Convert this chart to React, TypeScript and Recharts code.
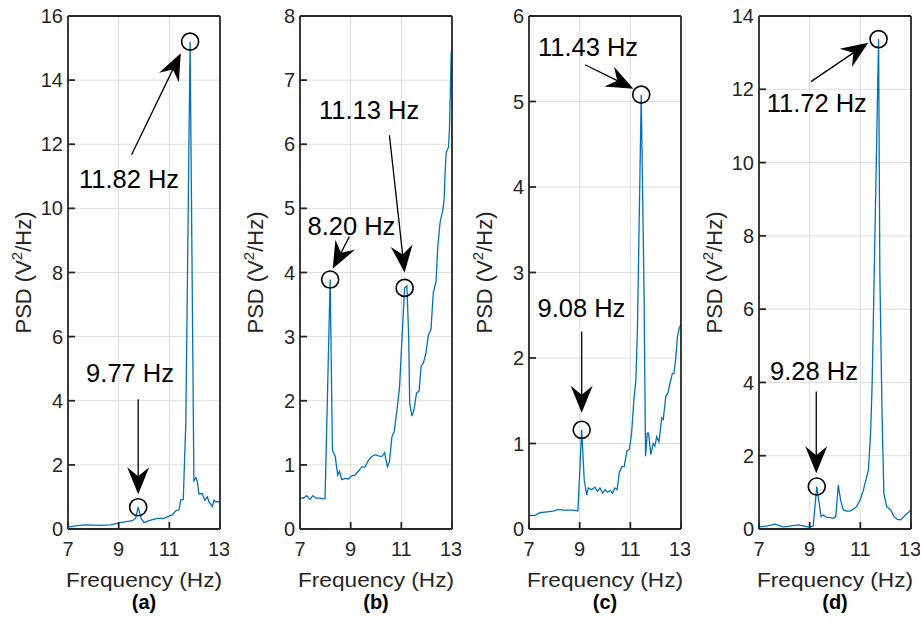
import React from 'react'
import { LineChart, Line, XAxis, YAxis, CartesianGrid, ReferenceDot, ReferenceLine } from 'recharts'

const FONT = 'Liberation Sans, Arial, sans-serif'
const AXIS = '#262626'

const xTicks = [7, 9, 11, 13]

// (a)
const freqA = [7.0, 7.3, 7.63, 8.0, 8.29, 8.68, 9.08, 9.3, 9.54, 9.67, 9.77, 9.89, 10.0, 10.2, 10.53, 10.79, 10.99, 11.12, 11.25, 11.38, 11.45, 11.55, 11.65, 11.82, 11.97, 12.05, 12.1, 12.17, 12.3, 12.4, 12.5, 12.56, 12.7, 12.76, 12.83, 13.0]
const psdA = [0.06, 0.1, 0.13, 0.12, 0.11, 0.13, 0.2, 0.23, 0.26, 0.33, 0.68, 0.33, 0.2, 0.26, 0.33, 0.33, 0.4, 0.44, 0.57, 0.6, 0.9, 0.92, 3.3, 15.2, 1.5, 1.6, 1.5, 1.1, 1.1, 0.9, 1.0, 0.85, 0.7, 0.9, 0.85, 0.85]
const yTicksA = [0, 2, 4, 6, 8, 10, 12, 14, 16]

// (b)
const freqB = [7.0, 7.13, 7.26, 7.4, 7.5, 7.63, 7.79, 7.92, 7.99, 8.19, 8.28, 8.39, 8.49, 8.56, 8.65, 8.78, 8.91, 9.04, 9.17, 9.3, 9.44, 9.57, 9.7, 9.83, 9.97, 10.1, 10.23, 10.34, 10.45, 10.53, 10.63, 10.72, 10.83, 10.93, 11.03, 11.13, 11.22, 11.29, 11.33, 11.42, 11.5, 11.6, 11.7, 11.78, 11.87, 11.97, 12.07, 12.17, 12.26, 12.37, 12.44, 12.53, 12.64, 12.69, 12.73, 12.77, 12.86, 12.9, 12.93, 12.97, 13.0]
const psdB = [0.49, 0.48, 0.52, 0.46, 0.52, 0.48, 0.48, 0.47, 0.48, 3.89, 1.23, 1.13, 0.84, 0.9, 0.77, 0.79, 0.78, 0.83, 0.84, 0.9, 0.97, 0.97, 1.07, 1.13, 1.16, 1.14, 1.13, 1.19, 0.97, 1.05, 1.44, 1.52, 1.86, 2.22, 3.0, 3.76, 3.79, 3.0, 1.96, 1.76, 1.86, 2.12, 2.15, 2.54, 2.59, 2.74, 3.03, 3.11, 3.68, 3.86, 4.41, 4.78, 4.98, 5.14, 5.56, 5.87, 5.95, 6.23, 6.76, 7.43, 7.5]
const yTicksB = [0, 1, 2, 3, 4, 5, 6, 7, 8]

// (c)
const freqC = [7.0, 7.24, 7.43, 7.7, 7.96, 8.16, 8.36, 8.55, 8.75, 8.93, 9.08, 9.18, 9.28, 9.34, 9.47, 9.6, 9.7, 9.8, 9.91, 10.0, 10.1, 10.2, 10.3, 10.39, 10.48, 10.56, 10.66, 10.76, 10.86, 10.96, 11.05, 11.14, 11.22, 11.28, 11.43, 11.54, 11.6, 11.67, 11.72, 11.81, 11.9, 11.97, 12.04, 12.13, 12.24, 12.3, 12.4, 12.48, 12.57, 12.66, 12.72, 12.79, 12.86, 12.93, 13.0]
const psdC = [0.16, 0.16, 0.19, 0.2, 0.21, 0.23, 0.22, 0.22, 0.22, 0.21, 1.16, 0.57, 0.4, 0.48, 0.46, 0.49, 0.44, 0.48, 0.42, 0.46, 0.43, 0.45, 0.42, 0.48, 0.46, 0.65, 0.73, 0.73, 0.91, 0.93, 1.12, 1.51, 1.75, 2.33, 5.08, 2.8, 0.85, 1.12, 1.12, 0.87, 1.0, 0.97, 1.08, 1.02, 1.3, 1.28, 1.55, 1.59, 1.71, 1.82, 1.82, 1.98, 2.25, 2.35, 2.39]
const yTicksC = [0, 1, 2, 3, 4, 5, 6]

// (d)
const freqD = [7.0, 7.3, 7.63, 7.96, 8.22, 8.55, 8.8, 8.98, 9.14, 9.28, 9.45, 9.54, 9.67, 9.8, 9.93, 10.03, 10.13, 10.22, 10.33, 10.46, 10.59, 10.72, 10.85, 10.99, 11.12, 11.22, 11.32, 11.41, 11.47, 11.72, 11.77, 11.86, 11.93, 12.04, 12.2, 12.33, 12.46, 12.59, 12.72, 12.86, 13.0]
const psdD = [0.06, 0.08, 0.13, 0.06, 0.08, 0.11, 0.08, 0.05, 0.08, 1.16, 0.34, 0.38, 0.32, 0.31, 0.29, 0.34, 1.2, 0.79, 0.52, 0.49, 0.49, 0.54, 0.61, 0.79, 1.06, 1.34, 1.61, 2.7, 4.07, 13.37, 7.0, 3.0, 0.97, 0.61, 0.52, 0.34, 0.26, 0.25, 0.34, 0.43, 0.52]
const yTicksD = [0, 2, 4, 6, 8, 10, 12, 14]

type Note = {
  peak: number
  text: string
  label: [number, number]
  tail: [number, number]
  tip: [number, number]
}

const notesA: Note[] = [
  { peak: 11.82, text: '11.82 Hz', label: [9.41, 10.92], tail: [9.51, 11.67], tip: [11.45, 14.84] },
  { peak: 9.77, text: '9.77 Hz', label: [9.45, 4.86], tail: [9.77, 4.05], tip: [9.77, 1.08] },
]
const notesB: Note[] = [
  { peak: 8.19, text: '8.20 Hz', label: [9.03, 4.73], tail: [8.95, 4.56], tip: [8.29, 4.06] },
  { peak: 11.13, text: '11.13 Hz', label: [9.73, 6.53], tail: [10.53, 6.14], tip: [11.13, 4.0] },
]
const notesC: Note[] = [
  { peak: 11.43, text: '11.43 Hz', label: [9.33, 5.64], tail: [9.21, 5.43], tip: [11.12, 5.15] },
  { peak: 9.08, text: '9.08 Hz', label: [9.07, 2.58], tail: [9.08, 2.31], tip: [9.08, 1.36] },
]
const notesD: Note[] = [
  { peak: 11.72, text: '11.72 Hz', label: [9.28, 11.62], tail: [9.05, 12.21], tip: [11.31, 13.27] },
  { peak: 9.28, text: '9.28 Hz', label: [9.17, 4.32], tail: [9.26, 3.75], tip: [9.26, 1.52] },
]

const Arrow = (p: any) => {
  const { x1, y1, x2, y2 } = p
  const len = Math.hypot(x2 - x1, y2 - y1) || 1
  const ux = (x2 - x1) / len
  const uy = (y2 - y1) / len
  const hl = 27
  const hw = 11
  const nb = 18
  const bx = x2 - ux * hl
  const by = y2 - uy * hl
  const mx = x2 - ux * nb
  const my = y2 - uy * nb
  return (
    <g>
      <line x1={x1} y1={y1} x2={mx} y2={my} stroke="#000" strokeWidth={1.3} />
      <path
        d={`M${x2},${y2}L${bx - uy * hw},${by + ux * hw}L${mx},${my}L${bx + uy * hw},${by - ux * hw}Z`}
        fill="#000"
      />
    </g>
  )
}

const YLabel = (props: any) => {
  const vb = props.viewBox
  const cx = vb.x + 24
  const cy = vb.y + vb.height / 2
  return (
    <text
      x={cx}
      y={cy}
      transform={`rotate(-90 ${cx} ${cy})`}
      textAnchor="middle"
      fontSize={22}
      fill={AXIS}
      fontFamily={FONT}
      dy={7}
    >
      PSD (V<tspan dy={-9} fontSize={15}>2</tspan>
      <tspan dy={9}>/Hz)</tspan>
    </text>
  )
}

const makeXLabel = (tag: string) => (props: any) => {
  const vb = props.viewBox
  const cx = vb.x + vb.width / 2
  return (
    <g fontFamily={FONT} textAnchor="middle">
      <text x={cx} y={vb.y + 58} fontSize={21} fill={AXIS} textLength={156} lengthAdjust="spacingAndGlyphs">
        Frequency (Hz)
      </text>
      <text x={cx} y={vb.y + 80} fontSize={20} fontWeight="bold" fill="#000">
        {tag}
      </text>
    </g>
  )
}

type PanelProps = {
  freq: number[]
  psd: number[]
  yTicks: number[]
  notes: Note[]
  tag: string
  left: number
}

function Panel({ freq, psd, yTicks, notes, tag, left }: PanelProps) {
  const data = freq.map((f, i) => ({ f, p: psd[i] }))
  const yMax = yTicks[yTicks.length - 1]
  const lineStyle = { stroke: AXIS, strokeWidth: 1.8 }
  const tickStyle = { fontSize: 20, fill: AXIS, fontFamily: FONT }
  return (
    <div style={{ position: 'absolute', left, top: 0 }}>
      <LineChart width={229} height={621} data={data} margin={{ top: 15, right: 8, bottom: 0, left: 0 }}>
        <CartesianGrid stroke="#dedede" strokeWidth={1} />
        <XAxis
          dataKey="f"
          type="number"
          domain={[7, 13]}
          ticks={xTicks}
          allowDataOverflow
          height={92}
          tickSize={-7}
          tickMargin={20}
          axisLine={lineStyle}
          tickLine={lineStyle}
          tick={tickStyle}
          label={makeXLabel(tag)}
        />
        <XAxis
          xAxisId="t"
          orientation="top"
          type="number"
          domain={[7, 13]}
          ticks={xTicks}
          allowDataOverflow
          height={1}
          tickSize={-7}
          axisLine={lineStyle}
          tickLine={lineStyle}
          tick={false}
        />
        <YAxis
          type="number"
          domain={[0, yMax]}
          ticks={yTicks}
          allowDataOverflow
          width={68}
          tickSize={-7}
          tickMargin={12}
          axisLine={lineStyle}
          tickLine={lineStyle}
          tick={tickStyle}
          label={YLabel}
        />
        <YAxis
          yAxisId="r"
          orientation="right"
          type="number"
          domain={[0, yMax]}
          ticks={yTicks}
          allowDataOverflow
          width={1}
          tickSize={-7}
          axisLine={lineStyle}
          tickLine={lineStyle}
          tick={false}
        />
        <Line
          type="linear"
          dataKey="p"
          stroke="#0072BD"
          strokeWidth={1.3}
          dot={false}
          isAnimationActive={false}
        />
        {notes.map((n) => (
          <ReferenceDot
            key={'c' + n.text}
            x={n.peak}
            y={psd[freq.indexOf(n.peak)]}
            r={8.5}
            fill="none"
            stroke="#000"
            strokeWidth={1.6}
            ifOverflow="visible"
          />
        ))}
        {notes.map((n) => (
          <ReferenceLine
            key={'a' + n.text}
            segment={[
              { x: n.tail[0], y: n.tail[1] },
              { x: n.tip[0], y: n.tip[1] },
            ]}
            ifOverflow="visible"
            shape={Arrow}
          />
        ))}
        {notes.map((n) => (
          <ReferenceDot
            key={'t' + n.text}
            x={n.label[0]}
            y={n.label[1]}
            r={0}
            ifOverflow="visible"
            shape={(p: any) => (
              <text
                x={p.cx}
                y={p.cy}
                dy={9}
                textAnchor="middle"
                fontSize={25.5}
                fontFamily={FONT}
                fill="#000"
              >
                {n.text}
              </text>
            )}
          />
        ))}
      </LineChart>
    </div>
  )
}

export default function App() {
  return (
    <div style={{ position: 'absolute', left: 0, top: 0, width: 921, height: 621, background: '#fff' }}>
      <Panel freq={freqA} psd={psdA} yTicks={yTicksA} notes={notesA} tag="(a)" left={0} />
      <Panel freq={freqB} psd={psdB} yTicks={yTicksB} notes={notesB} tag="(b)" left={232} />
      <Panel freq={freqC} psd={psdC} yTicks={yTicksC} notes={notesC} tag="(c)" left={461} />
      <Panel freq={freqD} psd={psdD} yTicks={yTicksD} notes={notesD} tag="(d)" left={691} />
    </div>
  )
}
